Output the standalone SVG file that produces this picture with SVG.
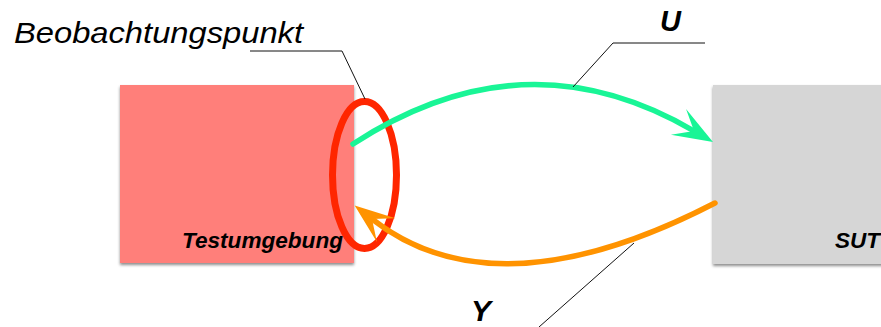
<svg xmlns="http://www.w3.org/2000/svg" width="881" height="327" viewBox="0 0 881 327">
<style>
.lbl{font-family:"Liberation Sans",Arial,sans-serif;font-style:italic;fill:#000}
.b{font-weight:bold}
.leader{fill:none;stroke:#111;stroke-width:1}
.flow{fill:none;stroke-width:5.5;stroke-linecap:round}
</style>
<defs>
<filter id="sh" x="-5%" y="-5%" width="110%" height="115%">
<feDropShadow dx="0" dy="2" stdDeviation="1.5" flood-color="#000" flood-opacity="0.45"/>
</filter>
<marker id="ag" markerUnits="userSpaceOnUse" markerWidth="70" markerHeight="40" viewBox="-20 -20 45 40" refX="0" refY="0" orient="auto" overflow="visible">
<path d="M22,0 L-18,-15 L0,0 L-18,15 z" fill="#19F596"/>
</marker>
<marker id="ao" markerUnits="userSpaceOnUse" markerWidth="70" markerHeight="40" viewBox="-20 -20 45 40" refX="0" refY="0" orient="auto" overflow="visible">
<path d="M22,0 L-18,-15 L0,0 L-18,15 z" fill="#FF9300"/>
</marker>
</defs>
<rect width="881" height="327" fill="#fff"/>
<g id="testumgebung">
<rect x="120" y="85" width="234" height="178" fill="#FF7F7A" filter="url(#sh)"/>
<text class="lbl b" x="182" y="248" font-size="22.5" textLength="161" lengthAdjust="spacingAndGlyphs">Testumgebung</text>
</g>
<g id="sut">
<rect x="713" y="85" width="180" height="179" fill="#D6D6D6" filter="url(#sh)"/>
<text class="lbl b" x="835" y="248" font-size="22.5">SUT</text>
</g>
<g id="beobachtungspunkt">
<ellipse cx="364.5" cy="175" rx="32" ry="73.5" fill="none" stroke="#FF2600" stroke-width="7"/>
<text class="lbl" x="14" y="42.5" font-size="30" textLength="289" lengthAdjust="spacingAndGlyphs">Beobachtungspunkt</text>
</g>
<g id="connectors">
<path id="u" class="flow" stroke="#19F596" d="M353,144 Q525,32 694,131" marker-end="url(#ag)"/>
<path id="y" class="flow" stroke="#FF9300" d="M715,203 Q496,316 372,219" marker-end="url(#ao)"/>
<polyline class="leader" points="250,51 342,51 365,99"/>
<polyline class="leader" points="705,43 613,43 573,87"/>
<polyline class="leader" points="634,243 539,327"/>
</g>
<g id="labels">
<text class="lbl b" x="660" y="31" font-size="29">U</text>
<text class="lbl b" x="471" y="321" font-size="30">Y</text>
</g>
</svg>
